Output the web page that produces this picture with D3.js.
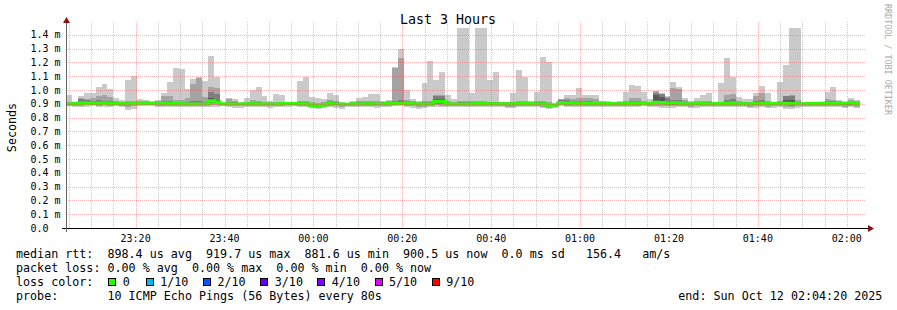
<!DOCTYPE html>
<html>
<head>
<meta charset="utf-8">
<script src="https://cdn.jsdelivr.net/npm/d3@7"></script>
<style>
  html, body { margin: 0; padding: 0; background: #fff; }
  svg text { font-family: "DejaVu Sans Mono", monospace; }
</style>
</head>
<body>
<svg id="chart" width="897" height="310"></svg>
<script>
// time window and rrd step
const startTime = Date.UTC(2025, 9, 11, 23, 4, 20);
const endTime = Date.UTC(2025, 9, 12, 2, 4, 20);
const stepSeconds = 80;

// per-step values in microseconds (10 pings sorted, median line)
const medianRtt = [898,900,904,905,905,905,905,903,903,900, 898,902,906,906,905,906,905,903,902,903,
  897,897,897,897,922,912,899,898,898,898, 899,900,899,898,898,898,902,902,901,899,
  899,890,884,894,904,898,897,896,899,900, 900,899,897,898,901,903,904,906,900,898,
  897,897,917,917,898,898,898,898,900,901, 901,900,900,899,899,900,901,902,903,900,
  899,886,893,907,905,906,904,905,903,904, 904,902,900,900,902,904,905,902,900,910,
  909,906,907,905,900,897,902,903,900,899, 901,903,904,902,900,898,901,903,903,901,
  900,903,902,900,899,901,902,903,905,904, 902,905,905,901];
const ping1 = [886,880,878,880,882,878,880,876,884,878, 852,862,884,882,882,878,876,876,880,880,
  878,880,880,878,880,880,884,876,870,870, 880,876,878,874,870,878,880,880,884,880,
  876,872,862,868,880,872,864,880,880,878, 876,874,872,878,880,882,884,874,870,866,
  870,876,880,878,880,880,880,880,876,878, 878,878,880,874,868,870,878,880,880,880,
  870,864,868,882,876,880,880,878,880,880, 880,878,876,874,880,878,880,882,880,876,
  870,868,870,874,876,872,872,876,874,874, 878,880,878,876,878,872,872,876,870,872,
  874,866,864,872,880,874,876,874,880,878, 876,870,874,870];
const ping2 = [890,886,888,890,892,888,889,886,890,886, 876,884,892,890,890,888,886,886,888,888,
  884,885,886,884,895,892,890,886,882,882, 888,886,886,884,882,886,888,890,890,888,
  886,880,870,878,888,882,876,886,886,886, 884,884,882,886,888,890,892,886,882,878,
  880,884,890,888,886,886,888,888,884,886, 886,886,886,882,878,880,886,888,888,886,
  880,872,876,890,886,888,888,886,888,888, 888,886,884,882,888,886,888,890,886,888,
  884,882,882,884,884,880,882,884,882,882, 886,888,886,884,886,880,882,886,880,882,
  884,878,876,882,886,882,884,882,888,886, 884,880,884,880];
const ping3 = [892,892,895,896,897,895,896,894,896,892, 888,893,898,898,897,897,895,894,894,895,
  890,890,890,890,905,900,894,892,890,890, 893,893,892,891,890,892,895,896,895,893,
  892,884,876,886,895,890,886,890,892,892, 892,891,889,892,894,896,897,895,890,888,
  888,890,900,898,892,892,893,893,892,893, 893,892,892,890,888,890,893,894,895,892,
  890,878,884,898,895,896,895,895,894,895, 895,893,892,890,894,894,895,895,892,898,
  896,894,894,894,892,888,892,893,891,890, 893,895,894,892,892,888,891,894,890,890,
  892,890,888,890,892,890,892,892,896,894, 892,890,894,890];
const ping4 = [895,896,899,900,901,900,900,899,900,896, 894,898,902,902,901,902,900,899,898,899,
  894,894,894,894,915,906,896,895,894,894, 896,897,896,895,894,895,899,899,898,896,
  896,887,880,890,900,894,892,893,896,896, 896,895,893,895,898,900,901,901,895,894,
  893,894,908,906,895,895,896,896,896,897, 897,896,896,895,894,895,897,898,899,896,
  895,882,889,903,900,901,900,900,899,899, 899,897,896,895,898,899,900,898,896,905,
  904,900,901,900,896,893,897,898,896,895, 897,899,899,897,896,893,896,898,896,896,
  896,897,896,895,896,896,897,897,900,899, 897,898,899,895];
const ping7 = [901,904,915,912,910,912,912,910,908,905, 903,907,910,910,908,910,912,910,908,908,
  902,905,908,904,940,925,901,904,903,902, 903,905,904,903,902,903,906,905,905,904,
  904,895,890,900,910,903,902,898,903,904, 904,904,902,903,906,915,920,912,905,903,
  903,903,935,935,903,903,904,904,904,905, 905,904,904,903,903,904,905,906,907,904,
  905,892,897,915,912,910,910,910,908,908, 908,906,904,904,906,910,910,906,904,965,
  950,920,915,912,905,902,906,907,905,903, 905,910,910,906,904,902,906,908,906,903,
  904,930,930,905,902,903,905,906,910,910, 906,908,910,905];
const ping8 = [904,910,938,925,920,929,924,920,914,910, 910,913,914,914,911,915,920,918,915,916,
  915,918,920,915,985,975,903,915,910,905, 908,912,910,908,906,908,910,907,908,910,
  910,902,898,908,918,910,905,900,908,910, 910,910,908,910,912,920,925,920,912,908,
  910,910,955,955,908,908,910,910,910,910, 910,910,910,907,907,910,912,912,911,910,
  912,900,900,928,925,918,920,922,918,916, 912,911,908,910,912,920,920,912,908,980,
  970,940,930,925,915,908,912,912,910,907, 908,930,935,912,910,908,920,925,912,904,
  910,955,958,915,905,904,908,908,920,918, 912,910,915,912];
const ping9 = [912,912,945,935,943,957,964,948,920,916, 918,922,920,918,913,920,957,960,925,930,
  945,1045,1090,950,1022,1015,904,935,918,908, 915,925,920,915,910,914,916,909,911,918,
  920,912,908,916,928,920,908,901,912,918, 918,920,918,916,918,1160,1230,930,920,914,
  920,922,965,965,920,914,920,918,918,918, 918,916,916,910,910,916,920,920,915,918,
  920,910,901,932,940,935,940,945,940,935, 916,915,912,915,922,940,942,920,914,990,
  975,950,1013,1005,930,914,920,920,918,911, 912,965,972,920,916,914,957,979,922,905,
  920,960,965,930,908,905,912,910,935,930, 920,912,925,920];
const ping10 = [965,914,957,979,979,1022,1044,1008,943,929, 1072,1101,933,926,914,929,979,1058,1158,1154,
  1005,1079,1094,1065,1245,1094,905,943,933,910, 943,1000,1022,957,919,972,965,910,914,1065,
  1096,950,943,933,979,965,910,902,919,943, 950,972,972,924,929,1170,1295,1000,933,919,
  1051,1209,1072,1130,965,933,1500,1500,979,1500, 1500,1072,1130,914,914,979,1144,1094,919,986,
  1237,1201,902,936,965,965,1015,965,965,965, 919,919,914,919,986,1036,1029,986,933,993,
  981,957,1058,1022,943,919,943,965,979,914, 1051,1230,1094,950,936,936,979,1029,979,906,
  1058,1180,1500,1500,910,906,914,911,986,1022, 929,913,943,929];

const yTickValues = [0, 0.1, 0.2, 0.3, 0.4, 0.5, 0.6, 0.7, 0.8, 0.9, 1.0, 1.1, 1.2, 1.3, 1.4];

const lossLabels = ["0", "1/10", "2/10", "3/10", "4/10", "5/10", "9/10"];
const lossColors = ["#26ff00", "#00b8ff", "#0059ff", "#5e00ff", "#7e00ff", "#dd00ff", "#ff0000"];

const legendLines = [
  "median rtt:  898.4 us avg  919.7 us max  881.6 us min  900.5 us now  0.0 ms sd   156.4   am/s",
  "packet loss: 0.00 % avg  0.00 % max  0.00 % min  0.00 % now",
  "loss color:",
  "probe:       10 ICMP Echo Pings (56 Bytes) every 80s"
];
const endLabel = "end: Sun Oct 12 02:04:20 2025";

// layout
const plot = { left: 66, right: 866, top: 28, bottom: 228 };
const svg = d3.select("#chart");

const x = d3.scaleUtc().domain([startTime, endTime]).range([plot.left, plot.right]);
const y = d3.scaleLinear().domain([0, 1.45]).range([plot.bottom, plot.top]);

const n = medianRtt.length;
const stepStart = d3.range(n).map(i => new Date(startTime + i * stepSeconds * 1000));
const stepEnd = d3.range(n).map(i => new Date(startTime + (i + 1) * stepSeconds * 1000));

svg.append("defs").append("clipPath").attr("id", "plotclip")
  .append("rect")
  .attr("x", plot.left).attr("y", plot.top)
  .attr("width", plot.right - plot.left).attr("height", plot.bottom - plot.top);

const dataG = svg.append("g").attr("clip-path", "url(#plotclip)");

// smoke: outer pair lightest, inner pairs darker
const smokeLayers = [
  { lo: ping1, hi: ping10, color: "#cacaca" },
  { lo: ping2, hi: ping9, color: "#a4a4a4" },
  { lo: ping3, hi: ping8, color: "#7e7e7e" },
  { lo: ping4, hi: ping7, color: "#585858" }
];

smokeLayers.forEach(layer => {
  dataG.append("g")
    .attr("shape-rendering", "crispEdges")
    .selectAll("rect")
    .data(d3.range(n))
    .join("rect")
    .attr("x", i => x(stepStart[i]))
    .attr("width", i => x(stepEnd[i]) - x(stepStart[i]))
    .attr("y", i => y(layer.hi[i] / 1000))
    .attr("height", i => Math.max(0, y(layer.lo[i] / 1000) - y(layer.hi[i] / 1000)))
    .attr("fill", layer.color);
});

// median line, coloured by loss (all 0 here)
const medianPts = d3.range(n).map(i => [stepStart[i], medianRtt[i] / 1000]);
medianPts.push([stepEnd[n - 1], medianRtt[n - 1] / 1000]);
dataG.append("path")
  .datum(medianPts)
  .attr("fill", "none")
  .attr("stroke", lossColors[0])
  .attr("stroke-width", 3.4)
  .attr("d", d3.line().x(d => x(d[0])).y(d => y(d[1])).curve(d3.curveStepAfter));

// grid on top, as rrdtool does
const gridG = svg.append("g").attr("shape-rendering", "crispEdges");
const minorTicks = x.ticks(d3.utcMinute.every(5));
const majorTicks = x.ticks(d3.utcMinute.every(20));
const minorColor = "rgba(140,140,140,0.45)";
const majorColor = "rgba(240,60,60,0.38)";

gridG.selectAll("line.minor")
  .data(minorTicks.filter(t => t.getUTCMinutes() % 20 !== 0))
  .join("line")
  .attr("x1", d => Math.round(x(d)) + 0.5).attr("x2", d => Math.round(x(d)) + 0.5)
  .attr("y1", plot.top - 6).attr("y2", plot.bottom)
  .attr("stroke", minorColor)
  .attr("stroke-dasharray", "1,1");

gridG.selectAll("line.major")
  .data(majorTicks)
  .join("line")
  .attr("x1", d => Math.round(x(d)) + 0.5).attr("x2", d => Math.round(x(d)) + 0.5)
  .attr("y1", plot.top - 6).attr("y2", plot.bottom)
  .attr("stroke", majorColor)
  .attr("stroke-dasharray", "1,1");

gridG.selectAll("line.h")
  .data(yTickValues.filter(v => v > 0))
  .join("line")
  .attr("x1", plot.left).attr("x2", plot.right)
  .attr("y1", d => Math.round(y(d)) + 0.5).attr("y2", d => Math.round(y(d)) + 0.5)
  .attr("stroke", majorColor)
  .attr("stroke-dasharray", "1,1");

// axes
const axisG = svg.append("g").attr("shape-rendering", "crispEdges");
axisG.append("line")
  .attr("x1", plot.left - 4).attr("x2", plot.right + 3)
  .attr("y1", plot.bottom + 0.5).attr("y2", plot.bottom + 0.5)
  .attr("stroke", "#000");
axisG.append("line")
  .attr("x1", plot.left + 0.5).attr("x2", plot.left + 0.5)
  .attr("y1", plot.bottom + 4).attr("y2", plot.top - 6)
  .attr("stroke", "#666").attr("stroke-width", 1);

svg.append("path")
  .attr("d", `M${plot.left - 3},${plot.top - 5} L${plot.left + 4},${plot.top - 5} L${plot.left + 0.5},${plot.top - 11} Z`)
  .attr("fill", "#8b1010");
svg.append("path")
  .attr("d", `M${plot.right + 2},${plot.bottom - 3} L${plot.right + 2},${plot.bottom + 4} L${plot.right + 8},${plot.bottom + 0.5} Z`)
  .attr("fill", "#8b1010");

// y labels
const yFmt = d3.format(".1f");
svg.append("g").selectAll("text")
  .data(yTickValues)
  .join("text")
  .attr("x", 30.5)
  .attr("y", d => y(d) + 3.6)
  .attr("font-size", 10)
  .attr("fill", "#000")
  .text(d => d === 0 ? "0.0" : yFmt(d) + " m");

// x labels
const xFmt = d3.utcFormat("%H:%M");
svg.append("g").selectAll("text")
  .data(majorTicks)
  .join("text")
  .attr("x", d => x(d))
  .attr("y", 241.5)
  .attr("text-anchor", "middle")
  .attr("font-size", 10)
  .attr("fill", "#000")
  .text(xFmt);

// title and side labels
svg.append("text")
  .attr("x", 448).attr("y", 24)
  .attr("text-anchor", "middle")
  .attr("font-size", 13.3)
  .text("Last 3 Hours");

svg.append("text")
  .attr("transform", "translate(15.5,127.5) rotate(-90)")
  .attr("text-anchor", "middle")
  .attr("font-size", 11.7)
  .text("Seconds");

svg.append("text")
  .attr("transform", "translate(885,4) rotate(90)")
  .attr("font-size", 8.4)
  .attr("fill", "#aaa")
  .text("RRDTOOL / TOBI OETIKER");

// legend
const legendY = [258, 272, 286, 300];
svg.append("g").selectAll("text")
  .data(legendLines)
  .join("text")
  .attr("x", 16)
  .attr("y", (d, i) => legendY[i])
  .attr("font-size", 11.7)
  .style("white-space", "pre")
  .attr("xml:space", "preserve")
  .text(d => d);

const swatchX = [108.3, 145.7, 203, 260.3, 317.3, 374.5, 431.7];
const swatchG = svg.append("g").selectAll("g")
  .data(lossLabels)
  .join("g")
  .attr("transform", (d, i) => `translate(${swatchX[i]},${legendY[2]})`);
swatchG.append("rect")
  .attr("x", 0.5).attr("y", -7.5)
  .attr("width", 7).attr("height", 7)
  .attr("fill", (d, i) => lossColors[i])
  .attr("stroke", "#000").attr("stroke-width", 1)
  .attr("shape-rendering", "crispEdges");
swatchG.append("text")
  .attr("x", 14.5).attr("y", 0)
  .attr("font-size", 11.7)
  .text(d => d);

svg.append("text")
  .attr("x", 678.3).attr("y", legendY[3])
  .attr("font-size", 11.7)
  .text(endLabel);
</script>
</body>
</html>
